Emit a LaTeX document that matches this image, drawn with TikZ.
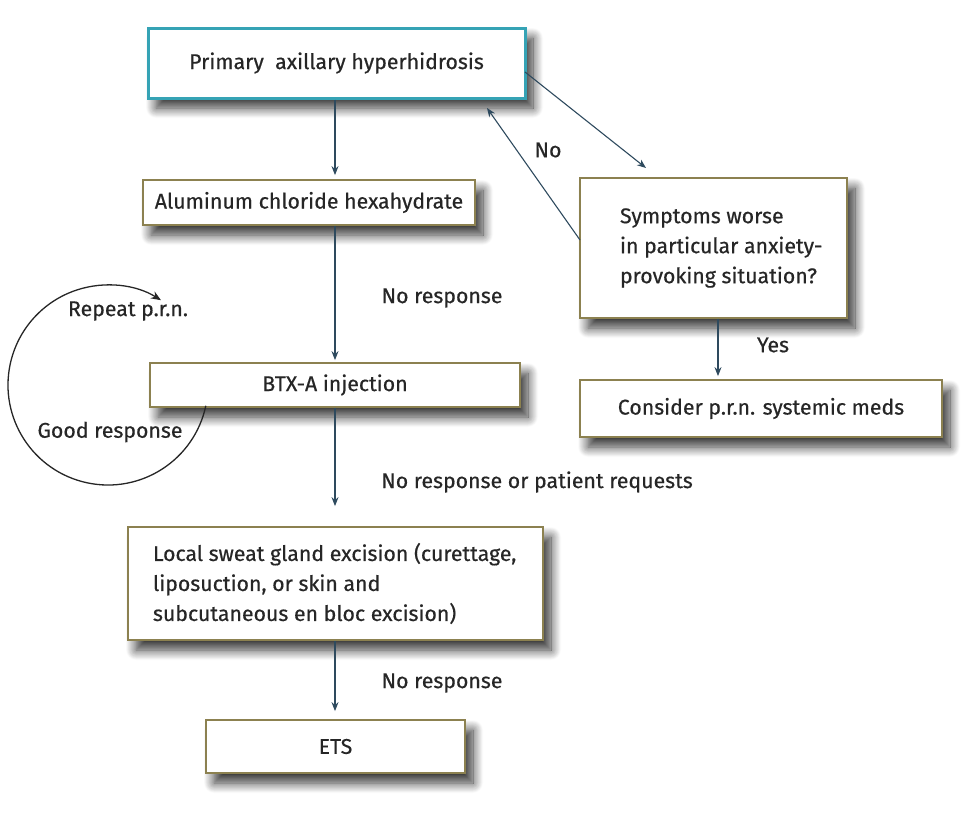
\documentclass[tikz,border=0pt]{standalone}
\usepackage{fontspec}
\setmainfont{Fira Sans}[FakeBold=0.5,AutoFakeBold=0.5]
\usetikzlibrary{arrows.meta,shadows.blur}
\definecolor{tealframe}{HTML}{35A3B5}
\definecolor{oliveframe}{HTML}{8C8150}
\definecolor{linkcol}{HTML}{2E4A5E}
\definecolor{txt}{HTML}{262626}
\newcommand{\insetpar}[3]{\hspace*{#1}\parbox{#2}{\raggedright #3}}
\tikzset{
  box/.style={draw=oliveframe, line width=1.8pt, fill=white, text=txt,
    blur shadow={shadow xshift=8pt, shadow yshift=-10pt, shadow blur radius=10pt, shadow blur steps=14, shadow opacity=80},
    font=\fontsize{21.3}{30}\selectfont\bfseries, inner sep=0pt},
  topbox/.style={box, draw=tealframe, line width=3pt},
  link/.style={draw=linkcol, line width=1.1pt, -{Stealth[length=9pt,width=7pt]}},
  lab/.style={text=txt, font=\fontsize{21.3}{30}\selectfont\bfseries, inner sep=0pt},
}
\begin{document}
\begin{tikzpicture}[x=1pt,y=-1pt]
\useasboundingbox (0,0) rectangle (978,814);
% boxes
\node[topbox, minimum width=377pt, minimum height=70pt] (pah) at (336.5,63) {Primary\ \ axillary hyperhidrosis};
\node[box, minimum width=332pt, minimum height=45pt] (acl) at (309,202.5) {Aluminum chloride hexahydrate};
\node[box, minimum width=370pt, minimum height=44pt] (btx) at (335,385) {BTX-A injection};
\node[box, minimum width=415pt, minimum height=113pt] (exc) at (335.5,583.5)
  {\insetpar{25pt}{390pt}{Local sweat gland excision (curettage,\\liposuction, or skin and\\subcutaneous en bloc excision)}};
\node[box, minimum width=259pt, minimum height=53pt] (ets) at (335.5,746.5) {ETS};
\node[box, minimum width=267pt, minimum height=140pt] (sym) at (713.5,248)
  {\insetpar{38pt}{225pt}{Symptoms worse\\in particular anxiety-\\provoking situation?}};
\node[box, minimum width=362pt, minimum height=57pt] (med) at (761,408.5) {Consider p.r.n. systemic meds};
% connector end points
\coordinate (p1) at (525,72);
\coordinate (p2) at (646,168);
\coordinate (s1) at (580,240);
\coordinate (p3) at (487,108);
% connectors
\draw[link] (pah.south -| 335,0) -- ([yshift=4pt]acl.north -| 335,0);
\draw[link] (acl.south -| 335,0) -- ([yshift=2pt]btx.north -| 335,0);
\draw[link] (btx.south -| 335,0) -- ([yshift=20pt]exc.north -| 335,0);
\draw[link] (exc.south -| 335,0) -- ([yshift=8pt]ets.north -| 335,0);
\draw[link] (p1) -- (p2);
\draw[link] (s1) -- (p3);
\draw[link] (sym.south -| 718,0) -- ([yshift=3pt]med.north -| 718,0);
% repeat loop
\draw[line width=1.3pt, black!85, -{Stealth[length=10pt,width=8pt]}] (108,385) ++(12:100) arc[start angle=12, end angle=302, radius=100];
% labels
\node[lab] (lno) at (548,150) {No};
\node[lab] (lyes) at (773,345) {Yes};
\node[lab] (lnr1) at (442,298) {No response};
\node[lab] (lnr2) at (537,482) {No response or patient requests};
\node[lab] (lnr3) at (442,683) {No response};
\node[lab] (lrep) at (128,311) {Repeat p.r.n.};
\node[lab] (lgood) at (110,432) {Good response};
\end{tikzpicture}
\end{document}
